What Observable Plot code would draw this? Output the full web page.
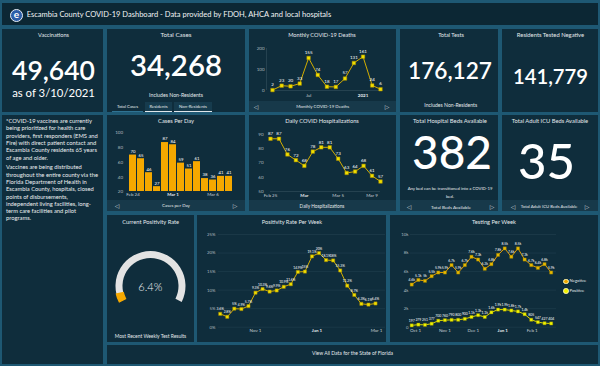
<!DOCTYPE html>
<html><head><meta charset="utf-8">
<script src="https://cdn.jsdelivr.net/npm/d3@7"></script>
<script src="https://cdn.jsdelivr.net/npm/@observablehq/plot@0.6"></script>
<style>
html,body{margin:0;padding:0;width:600px;height:366px;overflow:hidden;background:#1e5873;}
#root{position:relative;width:600px;height:366px;background:#1e5873;font-family:Lato,"Open Sans",sans-serif;}
#root svg{position:absolute;overflow:visible;}
</style></head>
<body><div id="root"></div>
<script>
// ---------------- DATA ----------------
const deathMonths = ["2020-03","2020-04","2020-05","2020-06","2020-07","2020-08","2020-09","2020-10","2020-11","2020-12","2021-01","2021-02","2021-03"];
const deathValues = [2,23,20,33,155,74,18,17,57,131,161,24,6];
const deathTickMonths = ["2020-07","2021-01"];
const deathTickLabels = ["Jul","2021"];

const caseDays = ["2021-02-24","2021-02-25","2021-02-26","2021-02-27","2021-02-28","2021-03-01","2021-03-02","2021-03-03","2021-03-04","2021-03-05","2021-03-06","2021-03-07","2021-03-08"];
const caseValues = [70,65,46,27,87,84,59,51,61,38,36,41,41];
const caseTickDays = ["2021-02-24","2021-03-01","2021-03-06"];
const caseTickLabels = ["Feb 24","Mar 1","Mar 6"];
const caseYTicks = [20,40,60,80,100];

const hospDays = ["2021-02-25","2021-02-26","2021-02-27","2021-02-28","2021-03-01","2021-03-02","2021-03-03","2021-03-04","2021-03-05","2021-03-06","2021-03-07","2021-03-08","2021-03-09","2021-03-10"];
const hospValues = [87,87,76,72,68,78,81,81,73,63,64,68,61,57];
const hospTickDays = ["2021-02-25","2021-03-01","2021-03-05","2021-03-09"];
const hospTickLabels = ["Feb 25","Mar","Mar 5","Mar 9"];
const hospYTicks = [50,60,70,80,90];

const posWeeks = ["2020-09-27","2020-10-04","2020-10-11","2020-10-18","2020-10-25","2020-11-01","2020-11-08","2020-11-15","2020-11-22","2020-11-29","2020-12-06","2020-12-13","2020-12-20","2020-12-27","2021-01-03","2021-01-10","2021-01-17","2021-01-24","2021-01-31","2021-02-07","2021-02-14","2021-02-21","2021-02-28"];
const posRates = [3.6,2.8,5.0,4.9,5.7,9.3,10.3,9.6,9.9,10.9,11.6,14.9,15.0,19.1,20.0,18.1,18.0,15.3,11.2,8.7,6.3,6.1,6.4];
const posTickDays = ["2020-11-01","2021-01-01","2021-03-01"];
const posTickLabels = ["Nov 1","Jan 1","Mar 1"];
const posYTicks = [0,5,10,15,20,25];

const testWeeks = ["2020-09-27","2020-10-04","2020-10-11","2020-10-18","2020-10-25","2020-11-01","2020-11-08","2020-11-15","2020-11-22","2020-11-29","2020-12-06","2020-12-13","2020-12-20","2020-12-27","2021-01-03","2021-01-10","2021-01-17","2021-01-24","2021-01-31","2021-02-07","2021-02-14","2021-02-21"];
const testNegative = [4600,5100,5000,5500,5900,5900,6700,5900,6700,7600,7300,6300,6800,7800,8500,7600,8500,7300,6700,6400,6800,5900];
const testPositive = [197,279,251,377,700,760,790,800,900,1100,1300,1100,1600,1900,1900,1800,1700,1400,805,547,427,404];
const testTickDays = ["2020-10-01","2020-11-01","2020-12-01","2021-01-01","2021-02-01"];
const testTickLabels = ["Oct 1","Nov 1","Dec 1","Jan 1","Feb 1"];
const testYTicks = [0,2000,4000,6000,8000,10000];
const testSeries = ["Negative","Positive"];

const currentPositivity = 6.4;
const kpi = {vaccinations:"49,640", vaccDate:"as of 3/10/2021", totalCases:"34,268", totalTests:"176,127", negative:"141,779", beds:"382", icu:"35"};

// ---------------- HELPERS ----------------
const root = document.getElementById("root");
const FAM = "Lato";
const pDay = d3.utcParse("%Y-%m-%d"), pMon = d3.utcParse("%Y-%m");
const ctx = document.createElement("canvas").getContext("2d");
function fit(str, w, weight, fam){ ctx.font = `${weight} 100px ${fam}`; return 100*w/ctx.measureText(str).width; }
function box(x,y,w,h,bg){ const d=document.createElement("div"); d.style.cssText=`position:absolute;left:${x}px;top:${y}px;width:${w}px;height:${h}px;background:${bg}`; root.appendChild(d); return d; }
function txt(str,cx,cy,o={}){
  const fam=o.family||FAM, wt=o.weight||400;
  const size=o.w?fit(str,o.w,wt,fam):o.size;
  const d=document.createElement("div"); d.textContent=str;
  const tx=o.anchor==="start"?"0":"-50%";
  d.style.cssText=`position:absolute;left:${cx}px;top:${cy}px;transform:translate(${tx},-50%);font:${wt} ${size}px ${fam};line-height:1;color:${o.color||"#e4e9ec"};white-space:nowrap;`;
  root.appendChild(d); return d;
}
function place(svg,x,y){ svg.style.left=x+"px"; svg.style.top=y+"px"; root.appendChild(svg); }
const PANEL="#0f2d3c", NAV="#17394a";
const style={background:"transparent",color:"#b7c2c8",fontFamily:FAM,fontSize:"5px",overflow:"visible"};
const LINE="#d2ad00", DOTF="#f0e000", DOTS="#a58600";

// ---------------- LAYOUT ----------------
box(2,3,596,22,"#0c2734");
const logo=box(10,8.5,13,13,"#2c5ea8"); logo.style.borderRadius="50%"; logo.style.boxSizing="border-box"; logo.style.border="1.5px solid #e8eef6";
txt("e",16.5,14.3,{size:10,weight:700,color:"#fff"});
txt("Escambia County COVID-19 Dashboard - Data provided by FDOH, AHCA and local hospitals",26.7,15,{w:306,anchor:"start",color:"#f2f4f5"});

box(2,29,101,83,PANEL); box(107,29,138,83,PANEL); box(249,29,147,83,PANEL); box(400,29,98,83,PANEL); box(502,29,96,83,PANEL);
box(2,115,101,249,PANEL); box(107,115,138,96,PANEL); box(249,115,147,96,PANEL); box(400,115,98,96,PANEL); box(502,115,96,96,PANEL);
box(249,101,147,11,NAV); box(107,200,138,11,NAV); box(249,200,147,11,NAV); box(400,200,98,11,NAV); box(502,200,96,11,NAV);
box(107,215,87,127,PANEL); box(197,215,189,127,PANEL); box(390,215,208,127,PANEL);
box(107,345,491,19,PANEL);

txt("Vaccinations",53.5,35,{w:31});
txt(kpi.vaccinations,53.5,70,{w:83,weight:600,color:"#fff"});
txt(kpi.vaccDate,53.5,93,{w:83,color:"#fff"});
txt("Total Cases",176,35,{w:31});
txt(kpi.totalCases,176,65,{w:92,weight:600,color:"#fff"});
txt("Includes Non-Residents",176,95.7,{w:54});
box(107,102,138,10,PANEL);
const t1=box(112,102,31,9,"#0f2d3c"); t1.style.borderBottom="1px solid #2f7393";
const t2=box(145,102,27,9,"#163b4d"); t2.style.borderBottom="1px solid #dfe6ea";
const t3=box(174,102,38,9,"#163b4d"); t3.style.borderBottom="1px solid #dfe6ea";
txt("Total Cases",127.5,106.8,{size:4.3});
txt("Residents",158.5,106.8,{size:4.3});
txt("Non-Residents",193,106.8,{size:4.3});

txt("Monthly COVID-19 Deaths",322,35,{w:68});
txt("Monthly COVID-19 Deaths",322.7,106.5,{w:53});
txt("◁",256,106.5,{size:6,color:"#c9d1d6",family:"DejaVu Sans"}); txt("▷",387,106.5,{size:6,color:"#c9d1d6",family:"DejaVu Sans"});

txt("Total Tests",451,35,{w:26});
txt(kpi.totalTests,450,70.7,{w:84,weight:600,color:"#fff"});
txt("Includes Non-Residents",450.7,105.7,{w:53});
txt("Residents Tested Negative",550.5,35,{w:67.6});
txt(kpi.negative,550.5,75.7,{w:75,weight:600,color:"#fff"});

const para1=["*COVID-19 vaccines are currently","being prioritized for health care","providers, first responders (EMS and","Fire) with direct patient contact and","Escambia County residents 65 years","of age and older."];
const para2=["Vaccines are being distributed","throughout the entire county via the","Florida Department of Health in","Escambia County, hospitals, closed","points of disbursements,","independent living facilities, long-","term care facilities and pilot","programs."];
const bodySize=fit("providers, first responders (EMS and",92,400,FAM);
para1.forEach((l,i)=>txt(l,6,121+i*7.3,{size:bodySize,anchor:"start",color:"#eceff1"}));
para2.forEach((l,i)=>txt(l,6,167.3+i*7.3,{size:bodySize,anchor:"start",color:"#eceff1"}));

txt("Cases Per Day",176,121,{w:36});
txt("Cases per Day",176,206,{w:28});
txt("◁",117,206,{size:6,color:"#c9d1d6",family:"DejaVu Sans"}); txt("▷",235,206,{size:6,color:"#c9d1d6",family:"DejaVu Sans"});
txt("Daily COVID Hospitalizations",322,121,{w:74});
txt("Daily Hospitalizations",322,206,{w:45});
txt("Total Hospital Beds Available",450,121,{w:74});
txt(kpi.beds,452,151.7,{w:80,weight:500,color:"#fff"});
txt("Any bed can be transitioned into a COVID-19",450,189.3,{w:85});
txt("bed.",450,196.7,{size:fit("Any bed can be transitioned into a COVID-19",85,400,FAM)});
txt("Total Beds Available",451,206.7,{w:40});
txt("◁",409,206.7,{size:6,color:"#c9d1d6",family:"DejaVu Sans"}); txt("▷",492,206.7,{size:6,color:"#c9d1d6",family:"DejaVu Sans"});
txt("Total Adult ICU Beds Available",550,121,{w:77});
txt(kpi.icu,546.5,160.7,{w:57,weight:500,color:"#fff"});
txt("Total Adult ICU Beds Available",549,206.7,{w:57});
txt("◁",513,206.7,{size:6,color:"#c9d1d6",family:"DejaVu Sans"}); txt("▷",587,206.7,{size:6,color:"#c9d1d6",family:"DejaVu Sans"});

txt("Current Positivity Rate",150.7,221.7,{w:57});
txt("Most Recent Weekly Test Results",150.5,336,{w:72});
txt("Positivity Rate Per Week",292,221.7,{w:60.7});
txt("Testing Per Week",494,221.7,{w:44});
txt("View All Data for the State of Florida",352.5,354.3,{w:81.6});

// ---------------- CHARTS ----------------
const deathData=deathMonths.map((m,i)=>({date:pMon(m),value:deathValues[i]}));
const deathTicks=deathTickMonths.map((m,i)=>({date:pMon(m),label:deathTickLabels[i]}));
place(Plot.plot({width:147,height:60,marginTop:8,marginBottom:10,marginLeft:23,marginRight:16,style,
  x:{type:"utc",domain:d3.extent(deathData,d=>d.date),axis:null},
  y:{domain:[0,200],axis:null},
  marks:[
    Plot.ruleY([0],{stroke:"#34505e",strokeWidth:0.6}),
    Plot.ruleX([deathData[0].date],{stroke:"#34505e",strokeWidth:0.6,dx:-6}),
    Plot.line(deathData,{x:"date",y:"value",stroke:LINE,strokeWidth:1}),
    Plot.dot(deathData,{x:"date",y:"value",symbol:"square",r:2,fill:DOTF,stroke:DOTS,strokeWidth:0.5}),
    Plot.text(deathData,{x:"date",y:"value",text:d=>String(d.value),dy:-5.5,fill:"#fff",fontSize:4.5}),
    Plot.text([0,100,200],{y:d=>d,frameAnchor:"left",textAnchor:"end",dx:-8,text:d=>String(d),fill:"#aeb9bf",fontSize:4.5}),
    Plot.text(deathTicks.filter(d=>d.label!=="2021"),{x:"date",frameAnchor:"bottom",dy:6,text:"label",fill:"#c5ced3",fontSize:4.5}),
    Plot.text(deathTicks.filter(d=>d.label==="2021"),{x:"date",frameAnchor:"bottom",dy:6,text:"label",fill:"#e6ecef",fontSize:4.5,fontWeight:"bold"})
  ]}),249,40);

const caseData=caseDays.map((d,i)=>({day:d,value:caseValues[i]}));
const caseTicks=caseTickDays.map((d,i)=>({day:d,label:caseTickLabels[i]}));
place(Plot.plot({width:138,height:74,marginTop:0,marginBottom:8,marginLeft:21,marginRight:12,style,
  x:{type:"band",domain:caseDays,paddingInner:0.17,paddingOuter:0.1,axis:null},
  y:{domain:[0,100],range:[81,7.5],axis:null},
  marks:[
    Plot.barY(caseData,{x:"day",y:"value",fill:"#f5a800",clip:true}),
    Plot.text(caseData,{x:"day",y:"value",text:d=>String(d.value),dy:-3.5,fill:"#fff",fontSize:4.3}),
    Plot.text(caseYTicks,{y:d=>d,frameAnchor:"left",textAnchor:"end",dx:-5.5,text:d=>String(d),fill:"#aeb9bf",fontSize:4.5}),
    Plot.text(caseTicks.filter(d=>d.label!=="Mar 1"),{x:"day",frameAnchor:"bottom",dy:4,text:"label",fill:"#c5ced3",fontSize:4.5}),
    Plot.text(caseTicks.filter(d=>d.label==="Mar 1"),{x:"day",frameAnchor:"bottom",dy:4,text:"label",fill:"#e6ecef",fontSize:4.5,fontWeight:"bold"})
  ]}),107,125);

const hospData=hospDays.map((d,i)=>({date:pDay(d),value:hospValues[i]}));
const hospTicks=hospTickDays.map((d,i)=>({date:pDay(d),label:hospTickLabels[i]}));
place(Plot.plot({width:147,height:75,marginTop:9,marginBottom:9,marginLeft:21,marginRight:16,style,
  x:{type:"utc",domain:d3.extent(hospData,d=>d.date),axis:null},
  y:{domain:[50,90],axis:null},
  marks:[
    Plot.ruleY([50],{stroke:"#34505e",strokeWidth:0.6}),
    Plot.line(hospData,{x:"date",y:"value",stroke:LINE,strokeWidth:1}),
    Plot.dot(hospData,{x:"date",y:"value",symbol:"square",r:2,fill:DOTF,stroke:DOTS,strokeWidth:0.5}),
    Plot.text(hospData,{x:"date",y:"value",text:d=>String(d.value),dy:-5,fill:"#fff",fontSize:4.5}),
    Plot.text(hospYTicks,{y:d=>d,frameAnchor:"left",textAnchor:"end",dx:-7,text:d=>String(d),fill:"#aeb9bf",fontSize:4.5}),
    Plot.text(hospTicks.filter(d=>d.label!=="Mar"),{x:"date",frameAnchor:"bottom",dy:5,text:"label",fill:"#c5ced3",fontSize:4.5}),
    Plot.text(hospTicks.filter(d=>d.label==="Mar"),{x:"date",frameAnchor:"bottom",dy:5,text:"label",fill:"#e6ecef",fontSize:4.5,fontWeight:"bold"})
  ]}),249,125);

const gaugeAngle=d3.scaleLinear().domain([0,100]).range([-117*Math.PI/180,117*Math.PI/180]);
place(Plot.plot({width:87,height:100,margin:0,style,
  marks:[
    (index,scales,values,dims)=>{
      const g=d3.create("svg:g").attr("transform",`translate(${dims.width/2},58)`);
      const arc=d3.arc().innerRadius(28).outerRadius(35);
      g.append("path").attr("d",arc({startAngle:gaugeAngle(0),endAngle:gaugeAngle(100)})).attr("fill","#e3e3e3");
      g.append("path").attr("d",d3.arc().innerRadius(27.3).outerRadius(35.7)({startAngle:gaugeAngle(0)-0.02,endAngle:gaugeAngle(currentPositivity)})).attr("fill","#f5a800");
      return g.node();
    }
  ]}),107,228);
txt(currentPositivity+"%",150.3,287,{w:24,weight:300,color:"#eef1f3"});

const posData=posWeeks.map((d,i)=>({date:pDay(d),value:posRates[i]}));
const posTicks=posTickDays.map((d,i)=>({date:pDay(d),label:posTickLabels[i]}));
place(Plot.plot({width:189,height:108,marginTop:6,marginBottom:9.3,marginLeft:21,marginRight:1,style,
  x:{type:"utc",domain:[pDay("2020-11-01"),pDay("2021-03-01")],range:[58,179],axis:null},
  y:{domain:[0,25],axis:null},
  marks:[
    Plot.ruleY(posYTicks,{stroke:"#21404f",strokeWidth:0.6}),
    Plot.line(posData,{x:"date",y:"value",stroke:LINE,strokeWidth:1}),
    Plot.dot(posData,{x:"date",y:"value",symbol:"square",r:1.8,fill:DOTF,stroke:DOTS,strokeWidth:0.5}),
    Plot.text(posData,{x:"date",y:"value",text:d=>(+d.value.toFixed(1))+"%",dy:-4.5,fill:"#fff",fontSize:3.3}),
    Plot.text(posYTicks,{y:d=>d,frameAnchor:"left",textAnchor:"end",dx:-3,text:d=>d+"%",fill:"#aeb9bf",fontSize:4.3}),
    Plot.text(posTicks.filter(d=>d.label!=="Jan 1"),{x:"date",frameAnchor:"bottom",dy:4.5,text:"label",fill:"#c5ced3",fontSize:4.5}),
    Plot.text(posTicks.filter(d=>d.label==="Jan 1"),{x:"date",frameAnchor:"bottom",dy:4.5,text:"label",fill:"#e6ecef",fontSize:4.5,fontWeight:"bold"})
  ]}),197,228);

const testData=testSeries.flatMap(s=>testWeeks.map((d,i)=>({series:s,date:pDay(d),value:(s==="Negative"?testNegative:testPositive)[i]})));
const testTicks=testTickDays.map((d,i)=>({date:pDay(d),label:testTickLabels[i]}));
const kfmt=v=>v>=1000?d3.format(".2~s")(v):String(v);
const yk=v=>v===0?"0":d3.format("~s")(v);
place(Plot.plot({width:208,height:108,marginTop:6,marginBottom:9.3,marginLeft:20,marginRight:42,style,
  x:{type:"utc",domain:[pDay("2020-10-01"),pDay("2021-02-01")],range:[25,141.7],axis:null},
  y:{domain:[0,10000],axis:null},
  color:{domain:testSeries,range:["#e2a000","#dcdc00"]},
  marks:[
    Plot.ruleY(testYTicks,{stroke:"#21404f",strokeWidth:0.6}),
    Plot.line(testData,{x:"date",y:"value",z:"series",stroke:"series",strokeWidth:1}),
    Plot.dot(testData,{x:"date",y:"value",symbol:"square",r:1.8,fill:d=>d.series==="Negative"?"#e8b800":"#eef500",stroke:"#8a7a00",strokeWidth:0.4}),
    Plot.text(testData,{x:"date",y:"value",text:d=>kfmt(d.value),dy:-4.5,fill:"#fff",fontSize:3.4}),
    Plot.text(testYTicks,{y:d=>d,frameAnchor:"left",textAnchor:"end",dx:-2,text:yk,fill:"#aeb9bf",fontSize:4.3}),
    Plot.text(testTicks.filter(d=>d.label!=="Jan 1"),{x:"date",frameAnchor:"bottom",dy:4.5,text:"label",fill:"#c5ced3",fontSize:4.5}),
    Plot.text(testTicks.filter(d=>d.label==="Jan 1"),{x:"date",frameAnchor:"bottom",dy:4.5,text:"label",fill:"#e6ecef",fontSize:4.5,fontWeight:"bold"})
  ]}),390,228);
const legCol={Negative:"#f0a800",Positive:"#f2f200"};
testSeries.forEach((s,i)=>{
  const c=box(563,278.5+i*9.7,5.6,5.6,legCol[s]); c.style.borderRadius="50%"; c.style.boxSizing="border-box"; c.style.border="0.6px solid #fff6b0";
  txt(s,569.5,281.3+i*9.7,{size:fit("Negative",16.7,400,FAM),anchor:"start",color:"#e6ebee"});
});
</script>
</body></html>
